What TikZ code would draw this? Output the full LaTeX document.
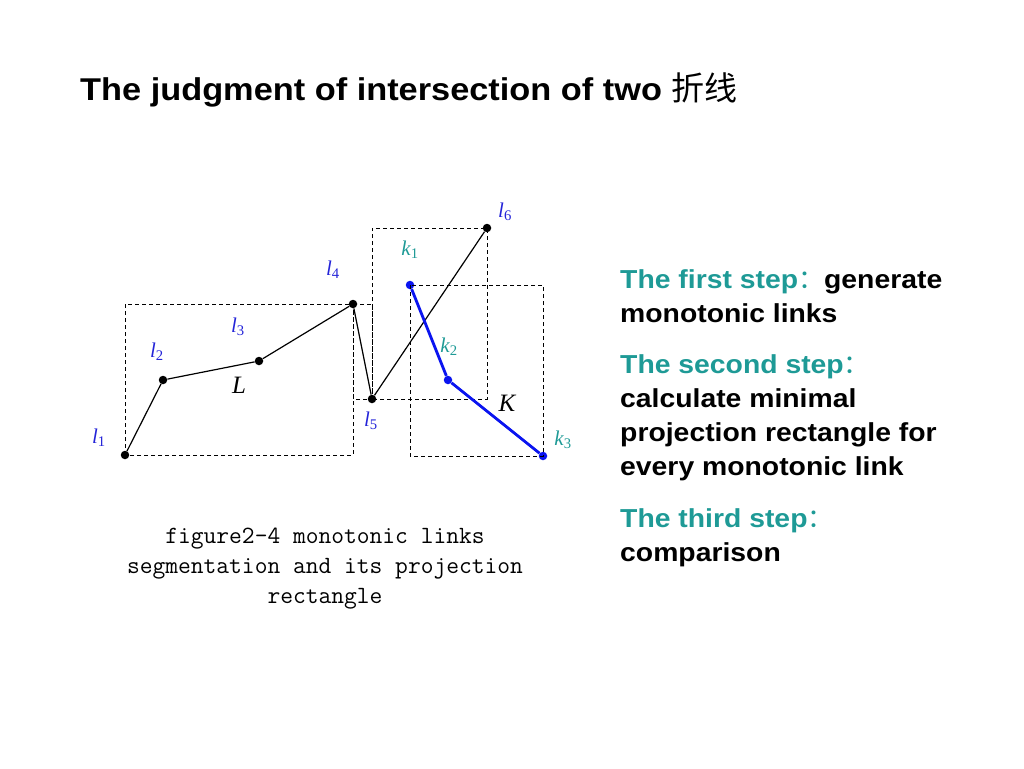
\documentclass[tikz,border=0pt]{standalone}
\usepackage{fontspec}
\setmainfont{Liberation Serif}
\setsansfont{Liberation Sans}
\newfontfamily\slidefont[FakeStretch=1.09]{Liberation Sans}
\newfontfamily\cjk{Noto Sans CJK SC}
\usetikzlibrary{positioning}
\definecolor{lblue}{HTML}{2424D8}
\definecolor{kblue}{HTML}{0A14F0}
\definecolor{steal}{HTML}{1E9A96}
\newcommand{\pt}[2]{\textit{#1}\textsubscript{#2}}
\newcommand{\fwcolon}{{\cjk\mdseries ：}}

\begin{document}
\begin{tikzpicture}[x=1pt,y=-1pt,
 dot/.style={circle,fill=black,inner sep=0pt,minimum size=8.5pt},
 kdot/.style={dot,fill=kblue},
 proj/.style={draw,dashed,dash pattern=on 4pt off 3pt,line width=0.9pt},
 lab/.style={text=lblue,font=\fontsize{21}{24}\selectfont},
 klab/.style={lab,text=steal},
 stepline/.style={anchor=north west,align=left,inner sep=0pt,
   font=\slidefont\bfseries\fontsize{26}{34}\selectfont}]
 \useasboundingbox (0,0) rectangle (1024,768);
 \node[anchor=base west,inner sep=0pt,font=\slidefont\bfseries\fontsize{31.5}{36}\selectfont] (title) at (80,100)
   {The judgment of intersection of two {\cjk\mdseries\fontsize{33}{36}\selectfont 折线}};
 % polyline L
 \node[dot] (l1) at (125,455) {};
 \node[dot] (l2) at (163,380) {};
 \node[dot] (l3) at (259,361) {};
 \node[dot] (l4) at (353,304) {};
 \node[dot] (l5) at (372,399) {};
 \node[dot] (l6) at (487,228) {};
 % polyline K
 \node[kdot] (k1) at (410,285) {};
 \node[kdot] (k2) at (448,380) {};
 \node[kdot] (k3) at (543,456) {};
 % projection rectangles
 \draw[proj] (l1.center) rectangle (l4.center);
 \draw[proj] (l4.center) rectangle (l5.center);
 \draw[proj] (l5.center) rectangle (l6.center);
 \draw[proj] (k1.center) rectangle (k3.center);
 \draw[line width=1.2pt] (l1) -- (l2) -- (l3) -- (l4) -- (l5) -- (l6);
 \draw[line width=2.8pt,kblue] (k1) -- (k2) -- (k3);
 % labels
 \node[lab] (tl1) at (99,438) {\pt{l}{1}};
 \node[lab] (tl2) at (157,352) {\pt{l}{2}};
 \node[lab] (tl3) at (238,327) {\pt{l}{3}};
 \node[lab] (tl4) at (333,270) {\pt{l}{4}};
 \node[lab] (tl5) at (371,421) {\pt{l}{5}};
 \node[lab] (tl6) at (505,212) {\pt{l}{6}};
 \node[klab] (tk1) at (410,250) {\pt{k}{1}};
 \node[klab] (tk2) at (449,347) {\pt{k}{2}};
 \node[klab] (tk3) at (563,440) {\pt{k}{3}};
 \node[font=\itshape\fontsize{25}{28}\selectfont] (L) at (239,385) {L};
 \node[font=\itshape\fontsize{25}{28}\selectfont] (K) at (507,403) {K};
 \node[align=center,font=\ttfamily\fontsize{24.8}{30}\selectfont] (cap) at (325,569)
   {figure2-4 monotonic links\\segmentation and its projection\\rectangle};
 % steps
 \node[stepline] (s1) at (620,269) {\textcolor{steal}{The first step\fwcolon}generate\\monotonic links};
 \node[stepline] (s2) at (620,354) {\textcolor{steal}{The second step\fwcolon}\\calculate minimal\\projection rectangle for\\every monotonic link};
 \node[stepline] (s3) at (620,508) {\textcolor{steal}{The third step\fwcolon}\\comparison};
\end{tikzpicture}
\end{document}
